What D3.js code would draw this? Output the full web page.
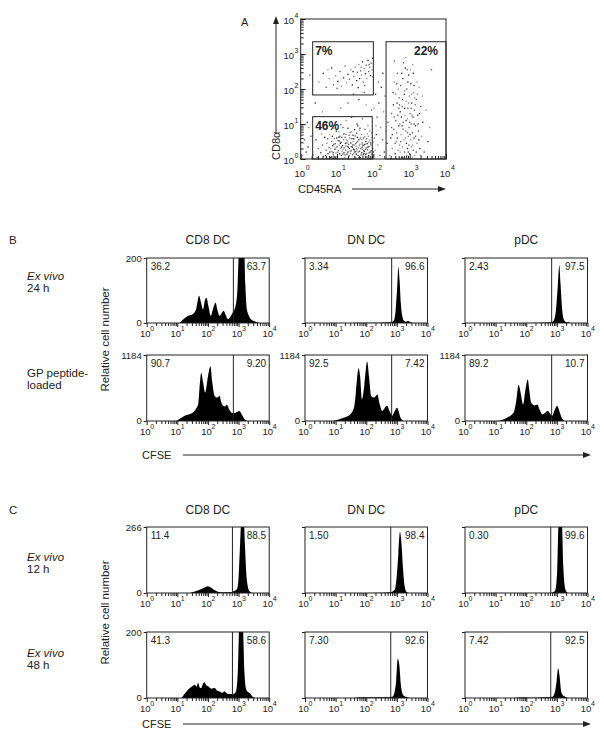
<!DOCTYPE html>
<html><head><meta charset="utf-8">
<script src="https://cdn.jsdelivr.net/npm/d3@7"></script>
<style>
body{margin:0;background:#fff}
text{font-family:"Liberation Sans",Arial,Helvetica,sans-serif;fill:#222}
</style>
</head><body>
<svg id="c" width="604" height="735"></svg>
<script>
// ---------------- DATA ----------------
const decades = [0, 1, 2, 3, 4];
const columns = ["CD8 DC", "DN DC", "pDC"];

// Panel A: flow events as [log10 CD45RA, log10 CD8a]
const aPoints = [
[0.35,0.12],[0.42,0.55],[0.48,0.30],[0.52,0.85],[0.55,0.18],[0.60,0.40],[0.63,0.08],[0.66,0.62],[0.70,0.25],[0.72,0.45],
[0.75,0.15],[0.78,0.33],[0.80,0.70],[0.82,0.05],[0.85,0.50],[0.86,0.22],[0.88,0.38],[0.90,0.12],[0.92,0.58],[0.94,0.28],
[0.95,0.44],[0.97,0.18],[0.98,0.80],[1.00,0.35],[1.01,0.08],[1.03,0.52],[1.04,0.25],[1.06,0.40],[1.07,0.15],[1.08,0.65],
[1.10,0.30],[1.11,0.48],[1.12,0.10],[1.14,0.22],[1.15,0.38],[1.16,0.90],[1.18,0.55],[1.19,0.18],[1.20,0.32],[1.21,0.05],
[1.23,0.45],[1.24,0.26],[1.25,0.70],[1.27,0.14],[1.28,0.36],[1.29,0.52],[1.30,0.20],[1.32,0.42],[1.33,0.08],[1.34,0.30],
[1.35,0.60],[1.37,0.16],[1.38,0.46],[1.39,0.24],[1.40,0.78],[1.42,0.34],[1.43,0.12],[1.44,0.50],[1.45,0.28],[1.47,0.40],
[1.48,0.06],[1.49,0.20],[1.50,0.66],[1.52,0.36],[1.53,0.14],[1.54,0.48],[1.55,0.26],[1.57,0.95],[1.58,0.10],[1.59,0.32],
[1.60,0.55],[1.62,0.22],[1.63,0.42],[1.64,0.04],[1.65,0.30],[1.67,0.70],[1.68,0.18],[1.69,0.46],[1.70,0.28],[1.72,0.12],
[1.73,0.60],[1.74,0.38],[1.75,0.22],[1.77,0.85],[1.78,0.08],[1.79,0.50],[1.80,0.32],[1.82,0.16],[1.83,0.44],[1.84,0.26],
[1.86,0.65],[1.87,0.10],[1.88,0.36],[1.90,0.54],[1.91,0.20],[1.93,0.40],[1.95,0.75],[1.96,0.14],[1.98,0.30],[2.00,0.48],
[0.15,0.20],[0.10,0.55],[0.22,0.90],[0.20,0.35],[0.28,0.65],[0.05,0.10],[0.18,1.05],
[0.95,1.05],[1.25,1.10],[1.55,1.00],[1.70,1.15],[1.85,0.95],[1.40,1.20],[1.10,0.98],[0.70,1.02],
[1.05,0.62],[1.36,0.76],[1.62,0.82],[1.46,0.58],[1.22,0.62],[0.90,0.88],[1.76,0.42],[1.52,0.02],[1.15,0.02],[0.80,0.20],
[0.45,0.05],[0.58,0.72],[0.68,0.10],[0.74,0.58],[0.83,0.30],[0.87,0.65],[0.91,0.42],[0.93,0.05],[0.99,0.60],[1.02,0.20],
[1.05,0.78],[1.09,0.45],[1.13,0.62],[1.17,0.28],[1.19,0.72],[1.22,0.12],[1.26,0.55],[1.31,0.34],[1.33,0.68],[1.36,0.22],
[1.41,0.58],[1.43,0.40],[1.46,0.16],[1.48,0.84],[1.51,0.44],[1.53,0.30],[1.56,0.62],[1.58,0.20],[1.61,0.38],[1.63,0.88],
[1.66,0.12],[1.68,0.56],[1.71,0.40],[1.73,0.24],[1.76,0.64],[1.79,0.14],[1.81,0.58],[1.83,0.72],[1.85,0.34],[1.88,0.18],
[1.90,0.80],[1.92,0.46],[1.94,0.24],[1.97,0.62],[1.99,0.08],[1.27,0.46],[1.34,0.10],[1.44,0.68],[1.51,0.22],[1.60,0.04],
[1.69,0.34],[1.78,0.28],[1.86,0.48],[1.12,0.34],[1.06,0.52],[0.97,0.32],[0.89,0.18],[1.39,0.36],[1.57,0.50],[1.74,0.16],
[1.16,0.14],[1.24,0.38],[1.47,0.26],[1.64,0.60],[1.82,0.06],[2.00,0.20],[2.03,0.60],[2.07,0.95],[1.30,0.88],[1.54,0.74],
[2.05,0.25],[2.08,0.70],[2.10,1.20],[2.12,0.40],[2.15,1.60],[2.18,0.10],[2.20,0.90],[2.22,2.05],[2.25,0.55],[2.28,1.35],
[2.30,0.20],[2.32,1.80],[2.35,0.80],[2.38,0.45],[2.40,1.05],[2.02,1.45],[2.06,1.85],[1.95,1.40],[1.80,1.55],[1.60,1.70],
[1.30,1.60],[1.10,1.45],[2.26,2.45],[2.14,2.20],[1.98,2.35],[0.40,1.60],[0.25,2.40],[0.60,1.35],[1.45,1.85],[1.75,1.90],
[0.50,2.20],[0.62,2.45],[0.70,2.05],[0.78,2.30],[0.85,2.60],[0.90,2.12],[0.96,2.38],[1.02,2.22],[1.08,2.50],[1.12,2.08],
[1.18,2.32],[1.22,2.66],[1.26,2.18],[1.30,2.42],[1.34,2.28],[1.38,2.56],[1.42,2.12],[1.46,2.36],[1.50,2.62],[1.54,2.24],
[1.56,2.48],[1.60,2.70],[1.62,2.30],[1.65,2.52],[1.68,2.40],[1.70,2.78],[1.72,2.20],[1.75,2.58],[1.78,2.44],[1.80,2.68],
[1.82,2.30],[1.85,2.82],[1.87,2.50],[1.90,2.62],[1.92,2.38],[1.94,2.74],[1.96,2.55],[1.98,2.88],[1.88,2.70],[1.66,2.62],
[1.44,2.50],[1.00,2.02],[0.75,2.55],[1.58,2.04],[1.76,2.10],
[2.45,0.10],[2.48,0.60],[2.50,1.30],[2.52,0.30],[2.54,1.90],[2.56,0.85],[2.58,2.20],[2.60,0.15],[2.62,1.10],[2.63,0.50],
[2.65,1.60],[2.66,2.45],[2.68,0.25],[2.70,0.95],[2.71,1.75],[2.72,0.40],[2.74,1.35],[2.75,2.10],[2.76,0.70],[2.78,0.05],
[2.79,1.50],[2.80,0.35],[2.81,2.30],[2.82,1.05],[2.84,0.55],[2.85,1.85],[2.86,0.20],[2.87,1.25],[2.88,2.60],[2.89,0.80],
[2.90,1.65],[2.91,0.45],[2.92,2.00],[2.93,1.15],[2.94,0.30],[2.95,1.45],[2.96,0.65],[2.97,2.40],[2.98,0.90],[2.99,1.80],
[3.00,0.15],[3.01,1.30],[3.02,0.55],[3.03,2.15],[3.04,1.00],[3.05,0.35],[3.06,1.60],[3.07,0.75],[3.08,2.70],[3.09,1.20],
[3.10,0.25],[3.11,1.90],[3.12,0.60],[3.13,1.40],[3.14,0.10],[3.16,0.95],[3.18,1.70],[3.20,0.45],[3.22,1.25],[3.24,0.80],
[3.26,2.05],[3.28,0.30],[3.30,1.50],[3.33,0.65],[3.36,1.05],[3.40,0.20],[3.45,1.40],[3.50,0.50],[3.60,2.55],[3.55,0.90],
[2.55,1.55],[2.64,0.75],[2.69,2.00],[2.77,1.20],[2.83,2.75],[2.88,0.60],[2.95,2.20],[3.00,1.05],[3.05,1.85],[3.10,2.45],
[3.15,1.55],[3.20,2.20],[3.25,0.55],[2.60,0.45],[2.73,1.00],[2.86,1.45],[2.98,0.40],[3.07,0.05],[3.12,1.00],[2.50,0.90],
[2.92,0.10],[2.80,1.70],[2.67,1.25],[3.02,2.55],[3.18,0.20],[2.58,2.80],[2.90,2.90],[3.23,1.00],[2.75,0.50],[3.35,1.80],
[2.52,0.70],[2.57,1.20],[2.61,1.85],[2.66,0.60],[2.70,1.45],[2.74,0.20],[2.78,2.45],[2.82,0.85],[2.86,1.95],[2.90,1.10],
[2.94,0.75],[2.97,1.60],[3.01,0.70],[3.04,1.45],[3.08,0.40],[3.12,2.10],[3.16,0.65],[3.21,1.85],[3.27,1.30],[3.31,0.10],
[2.84,0.05],[2.96,0.20],[2.72,1.55],[3.14,1.75],[2.64,2.15],[2.93,2.55],[3.06,1.25],[2.79,0.95]
];
// Panel A gates: [xlo, xhi, ylo, yhi] in log10 units, with label
const aGates = [
  {label: "7%",  box: [0.33, 2.00, 1.83, 3.35], anchor: "start"},
  {label: "46%", box: [0.33, 1.97, 0.00, 1.21], anchor: "start"},
  {label: "22%", box: [2.35, 4.00, 0.00, 3.35], anchor: "end"}
];

// Histograms: [log10 CFSE, cell count]
const histB24_CD8 = [[1.08,0],[1.35,22],[1.51,28],[1.62,45],[1.71,84],[1.78,60],[1.84,42],[1.90,70],[1.95,78],[2.02,50],[2.09,22],[2.17,45],[2.25,62],[2.31,40],[2.38,22],[2.45,30],[2.51,38],[2.58,25],[2.65,12],[2.74,20],[2.81,32],[2.90,52],[2.96,100],[3.00,200],[3.05,260],[3.17,260],[3.22,120],[3.27,42],[3.32,26],[3.38,14],[3.51,6],[3.68,0]];
const histB24_DN  = [[1.5,0],[1.8,1],[2.4,1],[2.79,2],[2.90,8],[2.96,40],[3.01,110],[3.05,172],[3.09,130],[3.13,60],[3.18,20],[3.24,6],[3.30,4],[3.37,6],[3.45,2],[3.55,0]];
const histB24_pDC = [[1.5,0],[2.4,1],[2.80,2],[2.90,8],[2.97,40],[3.03,115],[3.08,178],[3.12,120],[3.17,45],[3.22,12],[3.28,4],[3.36,2],[3.45,0]];
const histBGP_CD8 = [[0.97,0],[1.24,95],[1.51,154],[1.62,230],[1.68,300],[1.74,700],[1.78,864],[1.84,700],[1.91,510],[2.00,800],[2.08,983],[2.14,700],[2.22,450],[2.30,420],[2.38,450],[2.44,330],[2.49,272],[2.56,260],[2.62,290],[2.70,200],[2.76,154],[2.85,140],[2.95,160],[3.03,178],[3.10,120],[3.19,36],[3.30,0]];
const histBGP_DN  = [[0.93,0],[1.26,59],[1.48,118],[1.60,240],[1.66,500],[1.75,947],[1.80,800],[1.86,390],[1.94,650],[2.03,1066],[2.09,800],[2.16,450],[2.26,420],[2.36,474],[2.44,300],[2.52,178],[2.60,230],[2.68,272],[2.76,180],[2.85,95],[2.93,180],[3.01,237],[3.07,150],[3.12,59],[3.22,0]];
const histBGP_pDC = [[1.04,0],[1.37,59],[1.59,154],[1.67,350],[1.75,651],[1.82,500],[1.90,296],[1.97,550],[2.05,746],[2.10,550],[2.16,330],[2.26,280],[2.36,296],[2.44,200],[2.52,118],[2.62,150],[2.71,178],[2.78,130],[2.85,95],[2.93,200],[3.01,272],[3.08,180],[3.18,36],[3.28,0]];
const histC12_CD8 = [[1.41,0],[1.62,8],[1.84,19],[2.00,27],[2.10,21],[2.27,8],[2.43,3],[2.70,3],[2.86,8],[2.95,16],[3.00,60],[3.05,200],[3.10,320],[3.16,320],[3.21,186],[3.27,53],[3.35,8],[3.46,0]];
const histC12_DN  = [[1.5,0],[2.5,1],[2.79,3],[2.93,13],[2.99,60],[3.05,160],[3.10,247],[3.15,200],[3.20,100],[3.25,30],[3.31,5],[3.38,0]];
const histC12_pDC = [[2.8,0],[2.94,8],[3.01,90],[3.06,293],[3.16,293],[3.21,106],[3.28,13],[3.36,0]];
const histC48_CD8 = [[1.14,0],[1.30,20],[1.41,30],[1.50,36],[1.57,40],[1.63,34],[1.68,46],[1.73,32],[1.78,30],[1.84,44],[1.89,48],[1.95,38],[2.00,36],[2.11,28],[2.22,30],[2.30,22],[2.38,20],[2.46,16],[2.54,20],[2.62,14],[2.70,12],[2.84,12],[2.92,22],[2.98,90],[3.03,240],[3.13,240],[3.19,80],[3.25,26],[3.31,18],[3.38,14],[3.46,4],[3.56,0]];
const histC48_DN  = [[1.6,0],[1.81,2],[2.2,2],[2.58,2],[2.85,4],[2.92,16],[2.98,55],[3.03,120],[3.08,100],[3.13,40],[3.18,14],[3.24,6],[3.34,2],[3.45,0]];
const histC48_pDC = [[1.6,0],[1.9,2],[2.2,1],[2.6,2],[2.85,4],[2.94,20],[2.99,50],[3.04,90],[3.09,65],[3.14,20],[3.20,8],[3.28,3],[3.36,0]];

const pctB24 = [["36.2","63.7"],["3.34","96.6"],["2.43","97.5"]];
const pctBGP = [["90.7","9.20"],["92.5","7.42"],["89.2","10.7"]];
const pctC12 = [["11.4","88.5"],["1.50","98.4"],["0.30","99.6"]];
const pctC48 = [["41.3","58.6"],["7.30","92.6"],["7.42","92.5"]];

const yMaxB24 = 200, yMaxBGP = 1184, yMaxC12 = 266, yMaxC48 = 200;
const gateB = 2.83, gateC = 2.80;

// ---------------- DRAW ----------------
const svg = d3.select("#c");
const ink = "#222";
const colX = [146.7, 305, 465];
const pw = 122.5;

function logTicks() {
  const minor = [], major = [];
  decades.forEach(d => { major.push(Math.pow(10, d)); if (d < 4) for (let k = 2; k <= 9; k++) minor.push(k * Math.pow(10, d)); });
  return {minor, major};
}
const LT = logTicks();

// ---- Panel A ----
(function(){
  const x = d3.scaleLog().domain([1, 1e4]).range([300.7, 446]);
  const y = d3.scaleLog().domain([1, 1e4]).range([159, 19]);
  const g = svg.append("g");
  g.append("text").attr("x", 241).attr("y", 26).attr("font-size", 11).text("A");
  // points
  g.append("g").selectAll("rect").data(aPoints).join("rect")
    .attr("x", d => x(Math.pow(10, d[0])) - 0.6)
    .attr("y", d => y(Math.pow(10, d[1])) - 0.6)
    .attr("width", 1.3).attr("height", 1.3)
    .attr("fill", (d, i) => i % 3 === 0 ? "#888" : (i % 3 === 1 ? "#222" : "#555"));
  // gates
  aGates.forEach(gt => {
    const [x0, x1, y0, y1] = gt.box;
    g.append("rect").attr("x", x(Math.pow(10, x0))).attr("y", y(Math.pow(10, y1)))
      .attr("width", x(Math.pow(10, x1)) - x(Math.pow(10, x0)))
      .attr("height", y(Math.pow(10, y0)) - y(Math.pow(10, y1)))
      .attr("fill", "none").attr("stroke", ink).attr("stroke-width", 1);
    g.append("text")
      .attr("x", gt.anchor === "start" ? x(Math.pow(10, x0)) + 2.5 : x(Math.pow(10, x1)) - 8)
      .attr("y", y(Math.pow(10, y1)) + 13)
      .attr("text-anchor", gt.anchor).attr("font-size", 12).attr("font-weight", "bold").text(gt.label);
  });
  // frame
  g.append("rect").attr("x", 300.7).attr("y", 19).attr("width", 145.3).attr("height", 140)
    .attr("fill", "none").attr("stroke", ink).attr("stroke-width", 1);
  // ticks inside
  const bx = d3.axisTop(x).tickValues(LT.minor).tickSize(3).tickFormat("");
  const bxM = d3.axisTop(x).tickValues(LT.major).tickSize(5).tickFormat("");
  [bx, bxM].forEach(a => { const t = g.append("g").attr("transform", "translate(0,159)").call(a); t.select(".domain").remove(); t.selectAll("line").attr("stroke", ink); });
  const ly = d3.axisRight(y).tickValues(LT.minor).tickSize(3).tickFormat("");
  const lyM = d3.axisRight(y).tickValues(LT.major).tickSize(5).tickFormat("");
  [ly, lyM].forEach(a => { const t = g.append("g").attr("transform", "translate(300.7,0)").call(a); t.select(".domain").remove(); t.selectAll("line").attr("stroke", ink); });
  // labels
  decades.forEach(d => {
    const xv = x(Math.pow(10, d));
    g.append("text").attr("x", xv - 1).attr("y", 177).attr("text-anchor", "middle").attr("font-size", 9.5).text("10");
    g.append("text").attr("x", xv + 5).attr("y", 170).attr("font-size", 7).text(d);
    const yv = y(Math.pow(10, d));
    g.append("text").attr("x", 294).attr("y", yv + 5).attr("text-anchor", "end").attr("font-size", 9.5).text("10");
    g.append("text").attr("x", 294.5).attr("y", yv - 1).attr("font-size", 7).text(d);
  });
  // axis titles with arrows
  g.append("text").attr("transform", "translate(279.5,160) rotate(-90)").attr("font-size", 11).text("CD8α");
  g.append("line").attr("x1", 276).attr("x2", 276).attr("y1", 134).attr("y2", 22).attr("stroke", ink);
  g.append("path").attr("d", "M276,16 L273,24 L279,24 Z").attr("fill", ink);
  g.append("text").attr("x", 298).attr("y", 193).attr("font-size", 11).text("CD45RA");
  g.append("line").attr("x1", 352).attr("x2", 440).attr("y1", 189).attr("y2", 189).attr("stroke", ink);
  g.append("path").attr("d", "M446,189 L438,186 L438,192 Z").attr("fill", ink);
})();

// ---- Histogram helper ----
let clipId = 0;
function histogram(x0, top, bottom, data, yMax, gate, pct, showY) {
  const x = d3.scaleLog().domain([1, 1e4]).range([x0, x0 + pw]);
  const y = d3.scaleLinear().domain([0, yMax]).range([bottom, top]);
  const g = svg.append("g");
  const id = "clip" + (clipId++);
  g.append("clipPath").attr("id", id).append("rect")
    .attr("x", x0).attr("y", top).attr("width", pw).attr("height", bottom - top);
  const area = d3.area().curve(d3.curveMonotoneX)
    .x(d => x(Math.pow(10, d[0]))).y0(y(0)).y1(d => y(d[1]));
  g.append("path").attr("clip-path", `url(#${id})`).attr("d", area(data)).attr("fill", "#000");
  g.append("line").attr("x1", x(Math.pow(10, gate))).attr("x2", x(Math.pow(10, gate)))
    .attr("y1", top).attr("y2", bottom).attr("stroke", ink).attr("stroke-width", 1);
  g.append("rect").attr("x", x0).attr("y", top).attr("width", pw).attr("height", bottom - top)
    .attr("fill", "none").attr("stroke", ink).attr("stroke-width", 1);
  // ticks
  const a1 = d3.axisBottom(x).tickValues(LT.minor).tickSize(3).tickFormat("");
  const a2 = d3.axisBottom(x).tickValues(LT.major).tickSize(4).tickFormat("");
  [a1, a2].forEach(a => { const t = g.append("g").attr("transform", `translate(0,${bottom})`).call(a); t.select(".domain").remove(); t.selectAll("line").attr("stroke", ink); });
  const ay = d3.axisLeft(y).tickValues([0, yMax]).tickSize(3).tickFormat("");
  const ta = g.append("g").attr("transform", `translate(${x0},0)`).call(ay);
  ta.select(".domain").remove(); ta.selectAll("line").attr("stroke", ink);
  decades.forEach(d => {
    const xv = x(Math.pow(10, d));
    g.append("text").attr("x", xv - 1.5).attr("y", bottom + 14).attr("text-anchor", "middle").attr("font-size", 9.5).text("10");
    g.append("text").attr("x", xv + 3.5).attr("y", bottom + 8).attr("font-size", 7).text(d);
  });
  if (showY) {
    g.append("text").attr("x", x0 - 5).attr("y", top + 4).attr("text-anchor", "end").attr("font-size", 9.5).text(yMax);
    g.append("text").attr("x", x0 - 5).attr("y", bottom + 3).attr("text-anchor", "end").attr("font-size", 9.5).text(0);
  }
  g.append("text").attr("x", x0 + 4).attr("y", top + 12).attr("font-size", 10).text(pct[0]);
  g.append("text").attr("x", x0 + pw - 3).attr("y", top + 12).attr("text-anchor", "end").attr("font-size", 10).text(pct[1]);
}

function section(letter, titleY, rows, cfseY) {
  svg.append("text").attr("x", 9).attr("y", titleY).attr("font-size", 11.5).text(letter);
  columns.forEach((c, i) => svg.append("text").attr("x", colX[i] + pw / 2).attr("y", titleY)
    .attr("text-anchor", "middle").attr("font-size", 12).text(c));
  rows.forEach(r => {
    r.hists.forEach((h, i) => histogram(colX[i], r.top, r.bottom, h, r.yMax, r.gate, r.pct[i], i === 0 || r.allY));
    const t = svg.append("text").attr("x", 27).attr("y", r.labelY).attr("font-size", 11.5);
    t.append("tspan").attr("font-style", r.italic ? "italic" : "normal").text(r.label[0]);
    svg.append("text").attr("x", 27).attr("y", r.labelY + 12).attr("font-size", 11.5).text(r.label[1]);
  });
  const midY = (rows[0].top + rows[1].bottom) / 2;
  svg.append("text").attr("transform", `translate(109,${midY}) rotate(-90)`).attr("text-anchor", "middle")
    .attr("font-size", 11.5).text("Relative cell number");
  svg.append("text").attr("x", 142).attr("y", cfseY + 4).attr("font-size", 11).text("CFSE");
  svg.append("line").attr("x1", 183).attr("x2", 584).attr("y1", cfseY).attr("y2", cfseY).attr("stroke", ink);
  svg.append("path").attr("d", `M591,${cfseY} L583,${cfseY - 3} L583,${cfseY + 3} Z`).attr("fill", ink);
}

section("B", 244, [
  {top: 258, bottom: 323, yMax: yMaxB24, gate: gateB, pct: pctB24, hists: [histB24_CD8, histB24_DN, histB24_pDC],
   label: ["Ex vivo", "24 h"], italic: true, labelY: 280},
  {top: 355, bottom: 421, yMax: yMaxBGP, gate: gateB, pct: pctBGP, hists: [histBGP_CD8, histBGP_DN, histBGP_pDC],
   label: ["GP peptide-", "loaded"], italic: false, labelY: 377, allY: true}
], 455);

section("C", 514, [
  {top: 527, bottom: 593, yMax: yMaxC12, gate: gateC, pct: pctC12, hists: [histC12_CD8, histC12_DN, histC12_pDC],
   label: ["Ex vivo", "12 h"], italic: true, labelY: 561},
  {top: 632, bottom: 698, yMax: yMaxC48, gate: gateC, pct: pctC48, hists: [histC48_CD8, histC48_DN, histC48_pDC],
   label: ["Ex vivo", "48 h"], italic: true, labelY: 657}
], 724);
</script>
</body></html>
